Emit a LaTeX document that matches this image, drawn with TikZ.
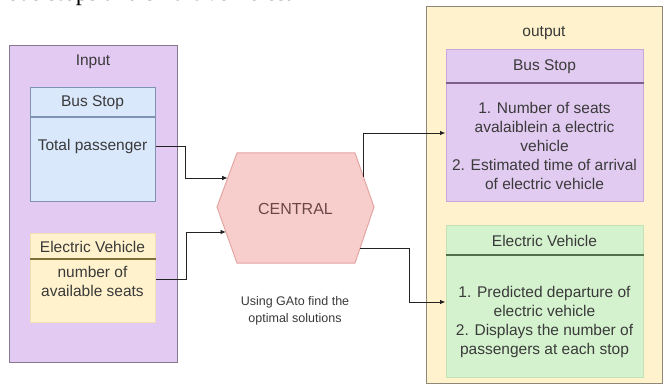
\documentclass[tikz,border=0pt]{standalone}
\usepackage{fontspec}
\setmainfont{Liberation Sans}
\newfontfamily\capserif{Liberation Serif}
\usetikzlibrary{arrows.meta}
\definecolor{txtcol}{HTML}{3A3A3A}
\definecolor{linecol}{HTML}{222222}
\definecolor{inputfill}{HTML}{E3CAF3}
\definecolor{inputline}{HTML}{857A8F}
\definecolor{bluefill}{HTML}{DAE8FC}
\definecolor{blueline}{HTML}{7F93B3}
\definecolor{yellowfill}{HTML}{FFF2CC}
\definecolor{yellowedge}{HTML}{F3DDB5}
\definecolor{yellowhead}{HTML}{7E7038}
\definecolor{hexfill}{HTML}{F8CECC}
\definecolor{hexline}{HTML}{E3A6A3}
\definecolor{hextext}{HTML}{6B4747}
\definecolor{outfill}{HTML}{FFF2CC}
\definecolor{outline}{HTML}{8F8878}
\definecolor{purplefill}{HTML}{E2CBF1}
\definecolor{purpleline}{HTML}{C9A7DA}
\definecolor{purplehead}{HTML}{7D5F8C}
\definecolor{greenfill}{HTML}{D5F2CF}
\definecolor{greenline}{HTML}{BFE3B5}
\definecolor{greenhead}{HTML}{50704A}
\tikzset{
  txt/.style={text=txtcol, font=\fontsize{15.5}{19}\selectfont, align=center, inner sep=0pt},
  smalltxt/.style={text=txtcol, font=\fontsize{12.5}{17}\selectfont, align=center, inner sep=0pt},
  conn/.style={draw=linecol, line width=0.9pt, -{Latex[length=5.5pt,width=4.5pt]}},
  panel/.style={rectangle, inner sep=0pt, line width=1pt},
  headline/.style={line width=1.2pt},
}
\begin{document}
\begin{tikzpicture}[x=1pt,y=-1pt]
\useasboundingbox (0,0) rectangle (668,387);
\clip (0,0) rectangle (668,387);
\fill[white] (0,0) rectangle (668,387);

% cut caption line at the top
\node[anchor=base west, inner sep=0pt, text=black, font=\capserif\fontsize{24.5}{25}\selectfont] (cutline) at (7,1) {bus stops and smart vehicles.};

% ---------- input panel ----------
\node[panel, fill=inputfill, draw=inputline, minimum width=168pt, minimum height=316pt] (input) at (93,204) {};
\node[txt] (inputlbl) at (93,62) {Input};

\node[panel, fill=bluefill, draw=blueline, minimum width=125pt, minimum height=114pt] (bsin) at (92.5,145) {};
\draw[blueline, headline] (bsin.west |- 0,117) -- (bsin.east |- 0,117);
\node[txt] (bsinhead) at (92.5,103) {Bus Stop};
\node[txt] (totalp) at (92.5,146) {Total passenger};

\node[panel, fill=yellowfill, draw=yellowedge, minimum width=125pt, minimum height=89pt] (evin) at (92.5,277.5) {};
\draw[yellowhead, headline] (evin.west |- 0,259) -- (evin.east |- 0,259);
\node[txt] (evinhead) at (92.5,247) {Electric Vehicle};
\node[txt] (evintext) at (92.5,281) {number of\\available seats};

% ---------- central hexagon ----------
\filldraw[fill=hexfill, draw=hexline, line width=1pt]
  (217,207) -- (237,153) -- (355,153) -- (374,207) -- (355,263) -- (237,263) -- cycle;
\node[txt, text=hextext, font=\fontsize{16}{19}\selectfont] (central) at (295.5,209) {CENTRAL};
\coordinate (inA) at (227.7,178);
\coordinate (inB) at (226,232);
\coordinate (outA) at (363.4,177);
\coordinate (outB) at (360,248);

\node[smalltxt] (note) at (295,311) {Using GAto find the\\optimal solutions};

% ---------- output panel ----------
\node[panel, fill=outfill, draw=outline, minimum width=236pt, minimum height=376pt] (output) at (544,195) {};
\node[txt] (outlbl) at (544,33) {output};

\node[panel, fill=purplefill, draw=purpleline, minimum width=197pt, minimum height=152pt] (bsout) at (544.5,126) {};
\draw[purplehead, headline] (bsout.west |- 0,83) -- (bsout.east |- 0,83);
\node[txt] (bsouthead) at (544.5,67) {Bus Stop};
\node[txt] (bsouttext) at (544.5,146) {1. Number of seats\\avalaiblein a electric\\vehicle\\2. Estimated time of arrival\\of electric vehicle};

\node[panel, fill=greenfill, draw=greenline, minimum width=197pt, minimum height=152pt] (evout) at (544.5,301) {};
\draw[greenhead, headline] (evout.west |- 0,255) -- (evout.east |- 0,255);
\node[txt] (evouthead) at (544.5,241) {Electric Vehicle};
\node[txt] (evouttext) at (544.5,322) {1. Predicted departure of\\electric vehicle\\2. Displays the number of\\passengers at each stop};

% ---------- connectors ----------
\draw[conn] (bsin.east |- totalp) -- ++(30,0) |- (inA);
\draw[conn] (evin.east |- 0,279) -- ++(31,0) |- (inB);
\draw[conn] (outA) |- (bsout.west |- 0,133);
\draw[conn] (outB) -- (409,248) |- (evout.west |- 0,302);
\end{tikzpicture}
\end{document}
